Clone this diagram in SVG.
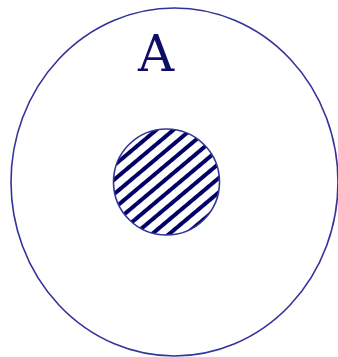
<svg xmlns="http://www.w3.org/2000/svg" width="338" height="357" viewBox="0 0 338 357">
<style>
.outer{fill:none;stroke:#333399;stroke-width:1.6}
.inner{fill:url(#hatch);stroke:#333399;stroke-width:1.6}
.lbl{font-family:"DejaVu Serif","Liberation Serif",serif;font-size:50px;fill:#0d0d66}
</style>
<defs>
<pattern id="hatch" patternUnits="userSpaceOnUse" width="11" height="11" patternTransform="rotate(50)">
<rect width="11" height="11" fill="#ffffff"/>
<rect x="0" y="0" width="4" height="11" fill="#000066"/>
</pattern>
</defs>
<g id="setA">
<ellipse class="outer" cx="174.5" cy="182" rx="163.5" ry="174"/>
<text class="lbl" x="156" y="71" text-anchor="middle">A</text>
</g>
<g id="subset">
<circle class="inner" cx="166.5" cy="182" r="53"/>
</g>
<g id="connectors"/>
</svg>
